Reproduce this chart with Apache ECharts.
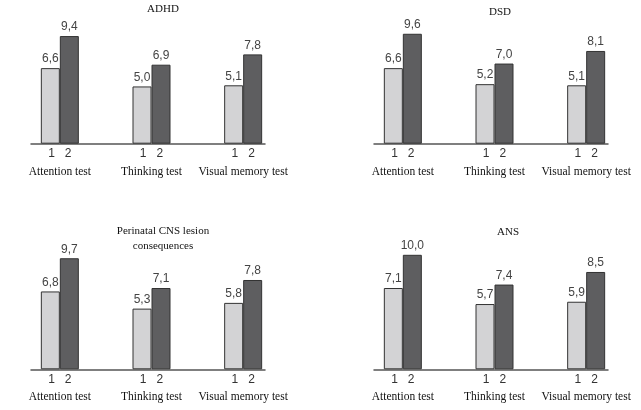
<!DOCTYPE html>
<html><head><meta charset="utf-8">
<script src="https://cdn.jsdelivr.net/npm/echarts@6/dist/echarts.min.js"></script>
<style>html,body{margin:0;padding:0;background:#fff}#c{width:641px;height:410px}</style>
</head><body><div id="c"></div>
<script>
const categories = ['Attention test', 'Thinking test', 'Visual memory test'];
const groupLabels = ['1', '2'];
const titles = ['ADHD', 'DSD', 'Perinatal CNS lesion\nconsequences', 'ANS'];
const adhd1 = [6.6, 5.0, 5.1];
const adhd2 = [9.4, 6.9, 7.8];
const dsd1 = [6.6, 5.2, 5.1];
const dsd2 = [9.6, 7.0, 8.1];
const cns1 = [6.8, 5.3, 5.8];
const cns2 = [9.7, 7.1, 7.8];
const ans1 = [7.1, 5.7, 5.9];
const ans2 = [10.0, 7.4, 8.5];

const panelData = [[adhd1, adhd2], [dsd1, dsd2], [cns1, cns2], [ans1, ans2]];
const layout = [
  {ox: 0, axisY: 143.7, tx: 163, ty: 9.5},
  {ox: 343, axisY: 143.7, tx: 500, ty: 12.5},
  {ox: 0, axisY: 369.3, tx: 163, ty: 238.5},
  {ox: 343, axisY: 369.3, tx: 508, ty: 232}
];
const H = 114.5;
const colors = ['#d3d3d5', '#5e5e60'];

const grid = [], xAxis = [], yAxis = [], series = [], graphic = [];
panelData.forEach((pd, i) => {
  const L = layout[i];
  // bars grid
  const gBar = grid.length;
  grid.push({left: 14 + L.ox, width: 275, top: L.axisY - H, height: H});
  xAxis.push({
    type: 'category', gridIndex: gBar, data: categories,
    axisLine: {show: false}, axisTick: {show: false},
    axisLabel: {
      interval: 0, margin: 3,
      formatter: v => '{n|' + groupLabels[0] + '}{g|}{n|' + groupLabels[1] + '}\n{c|' + v + '}',
      rich: {
        n: {fontFamily: 'Liberation Sans', fontSize: 12, color: '#333', lineHeight: 14},
        g: {width: 10, lineHeight: 14},
        c: {fontFamily: 'Liberation Serif', fontSize: 11.5, color: '#111', lineHeight: 22}
      }
    }
  });
  yAxis.push({type: 'value', gridIndex: gBar, min: 0, max: 10, show: false});
  pd.forEach((vals, k) => {
    series.push({
      type: 'bar', xAxisIndex: gBar, yAxisIndex: gBar, data: vals,
      barWidth: 19, barGap: '0%',
      itemStyle: {color: colors[k], borderColor: '#333', borderWidth: 1},
      label: {
        show: true, position: 'top', distance: 3,
        fontFamily: 'Liberation Sans', fontSize: 12, color: '#444',
        formatter: p => p.value.toFixed(1).replace('.', ',')
      },
      silent: true
    });
  });
  // axis line grid
  const gLine = grid.length;
  grid.push({left: 31 + L.ox, width: 234, top: L.axisY - H, height: H});
  xAxis.push({type: 'category', gridIndex: gLine, data: [],
    axisLine: {show: true, lineStyle: {color: '#555', width: 1.5}},
    axisTick: {show: false}, axisLabel: {show: false}});
  yAxis.push({type: 'value', gridIndex: gLine, show: false});
  graphic.push({type: 'text', x: L.tx, y: L.ty,
    style: {text: titles[i], align: 'center', verticalAlign: 'middle', lineHeight: 15,
      font: '11px "Liberation Serif"', fill: '#111'}});
});

const chart = echarts.init(document.getElementById('c'), null, {renderer: 'canvas'});
chart.setOption({animation: false, grid, xAxis, yAxis, series, graphic});
</script></body></html>
